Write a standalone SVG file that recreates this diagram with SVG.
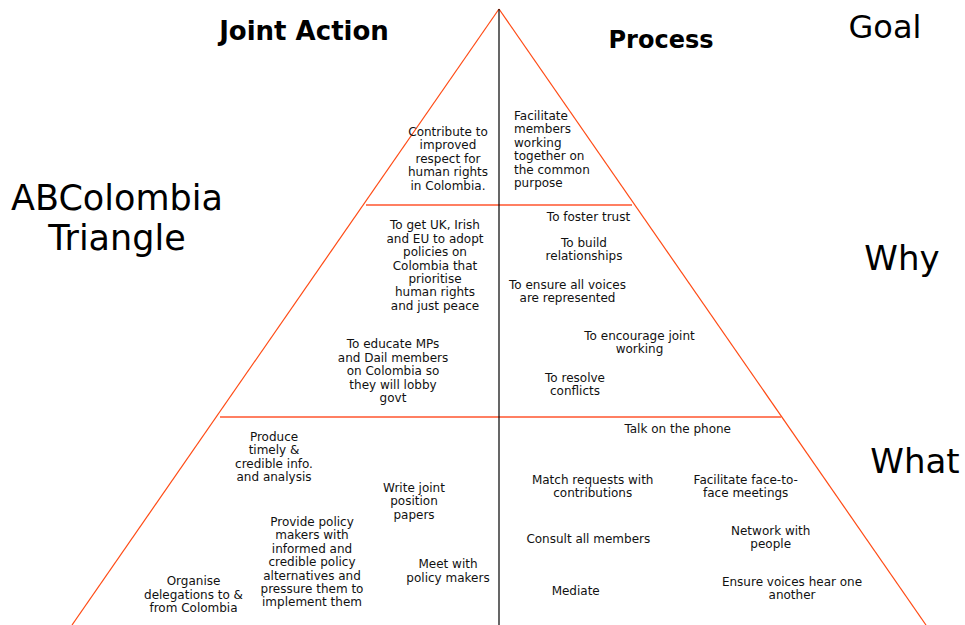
<svg xmlns="http://www.w3.org/2000/svg" width="965" height="625" viewBox="0 0 965 625">
<style>
  .t { font-family: "DejaVu Sans", Verdana, sans-serif; font-size: 12px; fill: #111; text-anchor: middle; }
  .l { text-anchor: start; }
  .h { font-family: "DejaVu Sans", Verdana, sans-serif; fill: #000; }
  .hb { font-weight: bold; }
  .edge { stroke: #ff4a14; stroke-width: 1.2; fill: none; }
  .band { stroke: #ff7f62; stroke-width: 2; fill: none; }
  .axis { stroke: #000; stroke-width: 1.2; fill: none; }
</style>
<rect width="965" height="625" fill="#fff"/>
<g id="connectors">
  <line class="edge" x1="499" y1="9" x2="72" y2="625"/>
  <line class="edge" x1="499" y1="9" x2="926" y2="625"/>
  <line class="band" x1="366" y1="205" x2="632" y2="205"/>
  <line class="band" x1="220" y1="417" x2="781" y2="417"/>
  <line class="axis" x1="499" y1="9" x2="499" y2="625"/>
</g>
<g id="headings">
  <text class="h hb" x="304" y="40" font-size="26" text-anchor="middle">Joint Action</text>
  <text class="h hb" x="661" y="48" font-size="24" text-anchor="middle">Process</text>
  <text class="h" x="885" y="38" font-size="32" text-anchor="middle">Goal</text>
  <text class="h" x="117" y="210" font-size="35" text-anchor="middle">ABColombia</text>
  <text class="h" x="117" y="250" font-size="35" text-anchor="middle">Triangle</text>
  <text class="h" x="902" y="270" font-size="34" text-anchor="middle">Why</text>
  <text class="h" x="915" y="473" font-size="34" text-anchor="middle">What</text>
</g>
<g id="goal-joint">
  <text class="t"><tspan x="448" y="136">Contribute to</tspan><tspan x="448" y="149.4">improved</tspan><tspan x="448" y="162.8">respect for</tspan><tspan x="448" y="176.2">human rights</tspan><tspan x="448" y="189.6">in Colombia.</tspan></text>
</g>
<g id="goal-process">
  <text class="t l"><tspan x="514" y="120">Facilitate</tspan><tspan x="514" y="133.4">members</tspan><tspan x="514" y="146.8">working</tspan><tspan x="514" y="160.2">together on</tspan><tspan x="514" y="173.6">the common</tspan><tspan x="514" y="187">purpose</tspan></text>
</g>
<g id="why-policies">
  <text class="t"><tspan x="435" y="229.3">To get UK, Irish</tspan><tspan x="435" y="242.7">and EU to adopt</tspan><tspan x="435" y="256.1">policies on</tspan><tspan x="435" y="269.5">Colombia that</tspan><tspan x="435" y="282.9">prioritise</tspan><tspan x="435" y="296.3">human rights</tspan><tspan x="435" y="309.7">and just peace</tspan></text>
</g>
<g id="why-educate">
  <text class="t"><tspan x="393" y="348.3">To educate MPs</tspan><tspan x="393" y="361.7">and Dail members</tspan><tspan x="393" y="375.1">on Colombia so</tspan><tspan x="393" y="388.5">they will lobby</tspan><tspan x="393" y="401.9">govt</tspan></text>
</g>
<g id="why-trust">
  <text class="t" x="588.5" y="220.7">To foster trust</text>
</g>
<g id="why-relationships">
  <text class="t"><tspan x="584" y="246.7">To build</tspan><tspan x="584" y="260.1">relationships</tspan></text>
</g>
<g id="why-voices">
  <text class="t"><tspan x="567.5" y="288.7">To ensure all voices</tspan><tspan x="567.5" y="302.1">are represented</tspan></text>
</g>
<g id="why-joint-working">
  <text class="t"><tspan x="639.5" y="340">To encourage joint</tspan><tspan x="639.5" y="353.4">working</tspan></text>
</g>
<g id="why-conflicts">
  <text class="t"><tspan x="575" y="381.7">To resolve</tspan><tspan x="575" y="395.1">conflicts</tspan></text>
</g>
<g id="what-produce">
  <text class="t"><tspan x="274" y="440.7">Produce</tspan><tspan x="274" y="454.1">timely &amp;</tspan><tspan x="274" y="467.5">credible info.</tspan><tspan x="274" y="480.9">and analysis</tspan></text>
</g>
<g id="what-write">
  <text class="t"><tspan x="414" y="491.7">Write joint</tspan><tspan x="414" y="505.1">position</tspan><tspan x="414" y="518.5">papers</tspan></text>
</g>
<g id="what-provide">
  <text class="t"><tspan x="312" y="526">Provide policy</tspan><tspan x="312" y="539.4">makers with</tspan><tspan x="312" y="552.8">informed and</tspan><tspan x="312" y="566.2">credible policy</tspan><tspan x="312" y="579.6">alternatives and</tspan><tspan x="312" y="593">pressure them to</tspan><tspan x="312" y="606.4">implement them</tspan></text>
</g>
<g id="what-meet">
  <text class="t"><tspan x="448" y="568.3">Meet with</tspan><tspan x="448" y="581.7">policy makers</tspan></text>
</g>
<g id="what-delegations">
  <text class="t"><tspan x="193.5" y="585.3">Organise</tspan><tspan x="193.5" y="598.7">delegations to &amp;</tspan><tspan x="193.5" y="612.1">from Colombia</tspan></text>
</g>
<g id="what-phone">
  <text class="t" x="677.7" y="432.7">Talk on the phone</text>
</g>
<g id="what-match">
  <text class="t"><tspan x="592.7" y="484">Match requests with</tspan><tspan x="592.7" y="497.4">contributions</tspan></text>
</g>
<g id="what-facilitate">
  <text class="t"><tspan x="745.7" y="484">Facilitate face-to-</tspan><tspan x="745.7" y="497.4">face meetings</tspan></text>
</g>
<g id="what-consult">
  <text class="t" x="588.3" y="543.3">Consult all members</text>
</g>
<g id="what-network">
  <text class="t"><tspan x="770.7" y="534.5">Network with</tspan><tspan x="770.7" y="548.3">people</tspan></text>
</g>
<g id="what-mediate">
  <text class="t" x="575.7" y="595">Mediate</text>
</g>
<g id="what-ensure">
  <text class="t"><tspan x="792" y="586">Ensure voices hear one</tspan><tspan x="792" y="599.4">another</tspan></text>
</g>
</svg>
